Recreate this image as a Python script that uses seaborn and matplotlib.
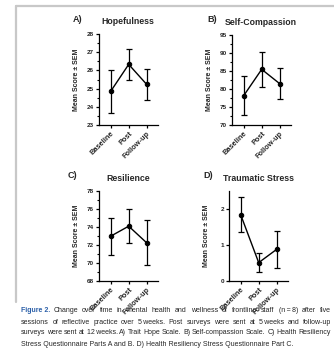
import matplotlib
matplotlib.use("Agg")
import matplotlib.pyplot as plt
import seaborn as sns
import numpy as np
import pandas as pd
from matplotlib.lines import Line2D

timepoints = ["Baseline", "Post", "Follow-up"]

titles = ["Hopefulness", "Self-Compassion", "Resilience", "Traumatic Stress"]
panel_letters = ["A)", "B)", "C)", "D)"]

hope_mean = [24.85, 26.33, 25.23]
hope_sem = [1.18, 0.87, 0.86]
selfcomp_mean = [78.15, 85.46, 81.48]
selfcomp_sem = [5.5, 4.9, 4.35]
resil_mean = [72.98, 74.09, 72.24]
resil_sem = [2.07, 1.9, 2.5]
trauma_mean = [1.84, 0.51, 0.88]
trauma_sem = [0.49, 0.27, 0.52]

ylims = [(23, 28), (70, 95), (68, 78), (0, 2.5)]
major_steps = [1, 5, 2, 1]
minor_steps = [0.5, 2.5, 1, None]

caption_lines = [
    "Change over time in mental health and wellness of frontline staff (n\u2009=\u20098) after five",
    "sessions of reflective practice over 5\u2009weeks. Post surveys were sent at 5\u2009weeks and follow-up",
    "surveys were sent at 12\u2009weeks. A) Trait Hope Scale. B) Self-compassion Scale. C) Health Resiliency",
    "Stress Questionnaire Parts A and B. D) Health Resiliency Stress Questionnaire Part C.",
]

sns.set_theme(style="ticks")
plt.rcParams["font.family"] = ["Liberation Sans", "DejaVu Sans"]

W, H = 334, 355
fig = plt.figure(figsize=(W / 100, H / 100), dpi=100)
fig.patch.set_facecolor("white")

def fx(px):
    return px / W

def fy(py):
    return 1 - py / H

axw = 58.5
boxes = [
    (99, 34, 125),
    (232, 35, 125),
    (99, 191, 281),
    (229, 191, 281),
]

means = [hope_mean, selfcomp_mean, resil_mean, trauma_mean]
sems = [hope_sem, selfcomp_sem, resil_sem, trauma_sem]

for i in range(4):
    left, top, bottom = boxes[i]
    ax = fig.add_axes([fx(left), fy(bottom), axw / W, (bottom - top) / H])
    df = pd.DataFrame({"Time": timepoints, "Score": means[i]})
    sns.pointplot(data=df, x="Time", y="Score", color="black", markers="o",
                  errorbar=None, ax=ax, linewidth=1.0, markersize=3.2)
    ax.errorbar(np.arange(3), means[i], yerr=sems[i], fmt="none",
                ecolor="black", elinewidth=0.9, capsize=2.2, capthick=0.9)
    ax.set_xlim(-0.65, 2.6)
    ax.set_ylim(*ylims[i])
    ax.yaxis.set_major_locator(matplotlib.ticker.MultipleLocator(major_steps[i]))
    if minor_steps[i]:
        ax.yaxis.set_minor_locator(matplotlib.ticker.MultipleLocator(minor_steps[i]))
    sns.despine(ax=ax)
    for s in ["left", "bottom"]:
        ax.spines[s].set_linewidth(0.9)
        ax.spines[s].set_color("black")
    ax.tick_params(axis="both", which="major", length=2.5, width=0.9, color="black",
                   pad=1)
    ax.tick_params(axis="y", which="minor", length=1.5, width=0.8, color="black")
    ax.tick_params(axis="y", labelsize=4.6)
    ax.tick_params(axis="x", labelsize=5.3, pad=1)
    for lab in ax.get_yticklabels():
        lab.set_fontweight("bold")
    ax.set_xticks(range(3))
    ax.set_xticklabels(timepoints, rotation=45, ha="right", rotation_mode="anchor",
                       fontweight="bold")
    ax.set_xlabel("")
    ax.set_ylabel("Mean Score \u00b1 SEM", fontsize=5, fontweight="bold")
    ax.yaxis.set_label_coords(-19 / axw, 0.5)
    ax.set_title(titles[i], fontsize=6.3, fontweight="bold", pad=7.5)
    ax.set_facecolor("white")
    lx = [73, 207, 68, 203][i]
    ly = [19, 19, 176, 176][i]
    fig.text(fx(lx), fy(ly), panel_letters[i], fontsize=6.5, fontweight="bold",
             ha="left", va="center")

# figure frame lines
fig.add_artist(Line2D([fx(16), fx(W)], [fy(6), fy(6)], color="#c8c8c8", linewidth=1.6,
                      transform=fig.transFigure))
fig.add_artist(Line2D([fx(16), fx(16)], [fy(6), fy(302)], color="#c8c8c8", linewidth=1.6,
                      transform=fig.transFigure))

# caption (justified lines)
cap_fs = 5.0
fig.canvas.draw()
renderer = fig.canvas.get_renderer()
y0 = 311
dy = 11
x_left = 21
x_right = 331


def place_justified(words, xstart, ypx, xend):
    widths = []
    for w in words:
        tt = fig.text(0, 0, w, fontsize=cap_fs)
        widths.append(tt.get_window_extent(renderer).width)
        tt.remove()
    gap = (xend - xstart - sum(widths)) / max(len(words) - 1, 1)
    x = xstart
    for w, wd in zip(words, widths):
        fig.text(fx(x), fy(ypx), w, fontsize=cap_fs, ha="left", va="center")
        x += wd + gap


t = fig.text(fx(x_left), fy(y0), "Figure 2.", fontsize=cap_fs, fontweight="bold",
             color="#2a5fa8", ha="left", va="center")
bb = t.get_window_extent(renderer)
place_justified(caption_lines[0].split(" "), bb.x1 + 3, y0, x_right)
for k in range(1, 3):
    place_justified(caption_lines[k].split(" "), x_left, y0 + k * dy, x_right)
fig.text(fx(x_left), fy(y0 + 3 * dy), caption_lines[3], fontsize=cap_fs,
         ha="left", va="center")

fig.savefig("out.png", dpi=100, facecolor="white")
